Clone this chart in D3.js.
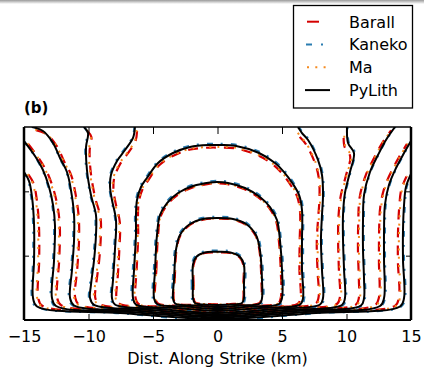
<!DOCTYPE html>
<html>
<head>
<meta charset="utf-8">
<script src="https://cdn.jsdelivr.net/npm/d3@7"></script>
<style>
  body { margin: 0; background: #fff; }
  text { font-family: "DejaVu Sans", sans-serif; }
</style>
</head>
<body>
<div id="rootDiv"></div>
<script>
const width = 424
const height = 367

// tick values
const strikeTicks = [-15, -10, -5, 0, 5, 10, 15]
const dipTicks = [5, 10]

// legend / series names
const seriesNames = ["Barall", "Kaneko", "Ma", "PyLith"]

// hypocenter (km along strike, km down dip)
const hypocenter = [0, 12]

// PyLith rupture fronts, [along strike km, down dip km]
const frontA = [[-1.9,13.3],[-1.9,12.3],[-1.9,10.7],[-1.65,10.1],[-1.0,9.75],[0,9.7],[1.0,9.75],[1.75,10.1],[2.05,10.7],[2.05,12.3],[2.05,13.3],[1.9,13.68],[1.0,13.8],[0,13.83],[-1.0,13.8],[-1.75,13.68]]
const frontB = [[-3.45,13.3],[-3.37,11.9],[-3.22,9.56],[-2.91,8.39],[-2.13,7.54],[-1.12,7.15],[0,7.07],[1.2,7.15],[2.21,7.54],[2.98,8.39],[3.29,9.56],[3.45,11.9],[3.45,13.3],[3.29,13.72],[1.74,13.87],[0,13.99],[-1.67,13.87],[-3.29,13.72]]
const frontC = [[-4.92,13.3],[-4.84,11.11],[-4.69,8.39],[-4.46,6.84],[-3.91,5.91],[-3.06,5.13],[-1.9,4.59],[-0.58,4.31],[0,4.27],[0.81,4.35],[2.13,4.74],[3.29,5.44],[4.07,6.22],[4.61,7.23],[4.84,8.78],[5.0,11.11],[5.0,13.3],[4.77,13.76],[2.52,13.95],[0,14.14],[-2.44,13.95],[-4.69,13.76]]
const frontD = [[-6.55,13.3],[-6.47,11.11],[-6.32,8.39],[-6.32,6.84],[-6.24,5.67],[-5.93,4.66],[-5.47,3.96],[-4.61,2.8],[-3.45,2.02],[-2.13,1.55],[-0.58,1.4],[0,1.4],[1.36,1.45],[3.22,2.02],[4.46,2.8],[5.16,3.5],[5.85,4.43],[6.32,5.28],[6.55,6.45],[6.55,8.78],[6.55,11.11],[6.63,13.3],[6.4,13.8],[3.29,14.07],[0,14.3],[-3.22,14.07],[-6.32,13.8]]
const frontE = [[-6.4,0],[-6.55,0.85],[-7.17,1.79],[-7.79,2.64],[-8.26,3.73],[-8.33,4.66],[-8.18,5.67],[-7.87,7.23],[-7.95,9.56],[-8.1,11.89],[-8.18,13.29],[-7.95,13.8],[-4.46,14.14],[0,14.45],[4.53,14.14],[7.95,13.8],[8.18,13.29],[8.1,11.11],[8.02,8.78],[8.1,6.84],[8.18,5.28],[8.1,3.73],[7.79,2.56],[7.02,1.01],[6.55,0.47],[6.24,0]]
const frontF = [[-10.35,0],[-10.04,0.47],[-10.19,1.55],[-10.12,3.34],[-9.81,5.28],[-9.42,6.84],[-9.42,8.39],[-9.57,10.34],[-9.81,12.28],[-9.88,13.29],[-9.57,13.83],[-5.23,14.22],[0,14.57],[5.31,14.22],[9.65,13.83],[9.88,13.29],[9.81,11.11],[9.73,8.78],[9.73,6.84],[9.88,5.13],[10.27,3.5],[10.58,2.02],[10.12,1.24],[10.04,0]]
const frontG = [[-14.38,0],[-13.53,0.31],[-12.75,1.24],[-12.21,2.41],[-11.67,3.5],[-11.36,4.9],[-11.12,6.84],[-11.12,8.78],[-11.28,11.11],[-11.43,13.29],[-11.12,13.87],[-6.01,14.3],[0,14.69],[6.09,14.3],[11.12,13.87],[11.36,13.29],[11.36,11.89],[11.28,9.56],[11.28,7.23],[11.36,5.28],[11.82,3.5],[12.44,2.18],[13.06,1.01],[13.76,0]]
const frontH = [[-15.0,1.09],[-14.15,2.25],[-13.53,3.34],[-13.06,4.66],[-12.75,6.06],[-12.6,7.62],[-12.67,10.34],[-12.83,13.29],[-12.52,13.91],[-6.78,14.38],[0,14.8],[6.86,14.38],[12.6,13.91],[12.91,13.29],[12.91,10.34],[12.91,8.0],[12.98,6.06],[13.29,4.51],[13.84,3.19],[14.46,2.02],[15.0,1.09]]
const frontI = [[-15.0,3.5],[-14.61,4.2],[-14.38,5.44],[-14.22,7.62],[-14.22,10.34],[-14.3,13.29],[-13.99,13.95],[-7.56,14.45],[0,14.92],[7.64,14.45],[14.15,13.95],[14.46,13.29],[14.38,10.34],[14.38,8.0],[14.46,6.06],[14.61,4.66],[15.0,3.65]]

const pylithFronts = [frontA, frontB, frontC, frontD, frontE, frontF, frontG, frontH, frontI]
const closedFront = [true, true, true, true, false, false, false, false, false]

// how far (km) each model's front trails the PyLith front, per contour
const barallLag = [0.05, 0.05, 0.1, 0.2, 0.35, 0.4, 0.4, 0.4, 0.4]
const kanekoLag = [-0.1, -0.1, -0.1, -0.1, -0.08, -0.08, -0.08, -0.08, -0.08]
const maLag = [0.04, 0.04, 0.08, 0.15, 0.28, 0.32, 0.32, 0.32, 0.32]

const svg = d3.select("#rootDiv").append("svg")
    .attr("width", width)
    .attr("height", height)

// grey shadow strip along the top of the screenshot
const defs = svg.append("defs")
const grad = defs.append("linearGradient")
    .attr("id", "topShade").attr("x1", 0).attr("x2", 0).attr("y1", 0).attr("y2", 1)
grad.append("stop").attr("offset", "0%").attr("stop-color", "#9a9a9a")
grad.append("stop").attr("offset", "100%").attr("stop-color", "#ffffff")
svg.append("rect").attr("x", 0).attr("y", 0).attr("width", width).attr("height", 4)
    .attr("fill", "url(#topShade)")

const x = d3.scaleLinear().domain([-15, 15]).range([24, 411])
const y = d3.scaleLinear().domain([0, 15]).range([127, 320])

defs.append("clipPath").attr("id", "plotClip")
    .append("rect")
    .attr("x", x(-15)).attr("y", y(0))
    .attr("width", x(15) - x(-15)).attr("height", y(15) - y(0))

function shiftFront(points, lag) {
    return points.map(p => {
        const dx = hypocenter[0] - p[0]
        const dy = hypocenter[1] - p[1]
        const d = Math.hypot(dx, dy) || 1
        return [p[0] + lag * dx / d, p[1] + lag * dy / d]
    })
}

const openLine = d3.line().x(d => x(d[0])).y(d => y(d[1])).curve(d3.curveCatmullRom.alpha(0.5))
const closedLine = d3.line().x(d => x(d[0])).y(d => y(d[1])).curve(d3.curveCatmullRomClosed.alpha(0.5))

const styles = [
    { lag: barallLag, color: "#d40000", dash: "10,8", width: 2.2 },
    { lag: kanekoLag, color: "#2a7cb0", dash: "6,8,2,8", width: 2 },
    { lag: maLag, color: "#f58a1f", dash: "2,6.3", width: 2 },
    { lag: null, color: "#000000", dash: null, width: 2 },
]

const plot = svg.append("g").attr("clip-path", "url(#plotClip)")

styles.forEach(s => {
    pylithFronts.forEach((front, i) => {
        const pts = s.lag ? shiftFront(front, s.lag[i]) : front
        const gen = closedFront[i] ? closedLine : openLine
        plot.append("path")
            .attr("d", gen(pts))
            .attr("fill", "none")
            .attr("stroke", s.color)
            .attr("stroke-width", s.width)
            .attr("stroke-dasharray", s.dash)
    })
})

// axes, ticks pointing in
const bottomAxis = svg.append("g")
    .attr("transform", `translate(0,${y(15)})`)
    .call(d3.axisBottom(x).tickValues(strikeTicks).tickSize(-6).tickPadding(11))
svg.append("g")
    .attr("transform", `translate(0,${y(0)})`)
    .call(d3.axisTop(x).tickValues(strikeTicks).tickSize(-7).tickFormat(""))
svg.append("g")
    .attr("transform", `translate(${x(-15)},0)`)
    .call(d3.axisLeft(y).tickValues(dipTicks).tickSize(-5).tickFormat(""))
svg.append("g")
    .attr("transform", `translate(${x(15)},0)`)
    .call(d3.axisRight(y).tickValues(dipTicks).tickSize(-5).tickFormat(""))

svg.selectAll(".domain").remove()
svg.selectAll(".tick line").attr("stroke", "#000").attr("stroke-width", 1)
bottomAxis.selectAll("text")
    .attr("font-size", 16)
    .attr("font-family", "DejaVu Sans")
    .attr("fill", "#000")

// frame
svg.append("line").attr("x1", x(-15)).attr("x2", x(15)).attr("y1", y(0)).attr("y2", y(0))
    .attr("stroke", "#000").attr("stroke-width", 1.5)
svg.append("line").attr("x1", x(-15)).attr("x2", x(15)).attr("y1", y(15)).attr("y2", y(15))
    .attr("stroke", "#000").attr("stroke-width", 2)
svg.append("line").attr("x1", x(-15)).attr("x2", x(-15)).attr("y1", y(0)).attr("y2", y(15))
    .attr("stroke", "#000").attr("stroke-width", 2.5)
svg.append("line").attr("x1", x(15)).attr("x2", x(15)).attr("y1", y(0)).attr("y2", y(15))
    .attr("stroke", "#000").attr("stroke-width", 2.5)

svg.append("text")
    .attr("x", (x(-15) + x(15)) / 2)
    .attr("y", 364)
    .attr("text-anchor", "middle")
    .attr("font-size", 16)
    .text("Dist. Along Strike (km)")

svg.append("text")
    .attr("x", 24)
    .attr("y", 113)
    .attr("font-size", 15)
    .attr("font-weight", "bold")
    .text("(b)")

// legend
const legend = svg.append("g")
legend.append("rect")
    .attr("x", 293.5).attr("y", 5.5).attr("width", 119).attr("height", 102.5)
    .attr("fill", "#fff").attr("stroke", "#000").attr("stroke-width", 1.3)

const handles = [
    { x1: 307, x2: 319, dash: null },
    { x1: 306, x2: 323, dash: "6,9,2,9" },
    { x1: 307, x2: 326, dash: "2,6.3" },
    { x1: 305, x2: 330, dash: null },
]
seriesNames.forEach((name, i) => {
    const cy = 21.7 + i * 22.8
    legend.append("line")
        .attr("x1", handles[i].x1).attr("x2", handles[i].x2)
        .attr("y1", cy).attr("y2", cy)
        .attr("stroke", styles[i].color)
        .attr("stroke-width", 2)
        .attr("stroke-dasharray", handles[i].dash)
    legend.append("text")
        .attr("x", 349)
        .attr("y", cy + 5.8)
        .attr("font-size", 16)
        .text(name)
})
</script>
</body>
</html>
